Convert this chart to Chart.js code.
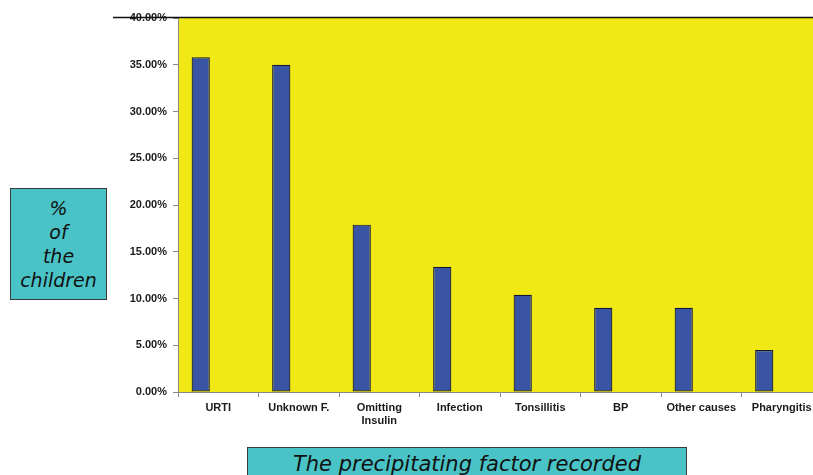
<!DOCTYPE html>
<html>
<head>
<meta charset="utf-8">
<script src="https://cdn.jsdelivr.net/npm/chart.js@4.4.0/dist/chart.umd.min.js"></script>
<style>
  html, body { margin: 0; padding: 0; background: #fff; overflow: hidden; }
  #wrap { position: relative; width: 813px; height: 475px; overflow: hidden; }
  #chartBox { position: absolute; left: 0; top: 0; width: 840px; height: 475px; }
  .tbox {
    position: absolute; background: #4AC3C7; border: 1px solid #3a3a3a;
    font-family: "DejaVu Sans", Verdana, sans-serif; font-style: italic;
    color: #111; text-align: center; box-sizing: border-box;
  }
  #yBox { left: 10px; top: 188px; width: 97px; height: 112px; font-size: 19px; line-height: 24px; padding-top: 7px; }
  #xBox { left: 247px; top: 447px; width: 440px; height: 40px; font-size: 21px; line-height: 30px; padding-top: 1px; }
</style>
</head>
<body>
<div id="wrap">
  <div id="chartBox"><canvas id="chart1" width="840" height="475"></canvas></div>
  <div class="tbox" id="yBox">%<br>of<br>the<br>children</div>
  <div class="tbox" id="xBox">The precipitating factor recorded</div>
</div>
<script>
// categories and values
var factorLabels = ['URTI', 'Unknown F.', ['Omitting', 'Insulin'], 'Infection', 'Tonsillitis', 'BP', 'Other causes', 'Pharyngitis']
var percentValues = [35.8, 35.0, 17.9, 13.4, 10.4, 9.0, 9.0, 4.5]
var emptySeries = [null, null, null, null, null, null, null, null]

var plotYellow = '#F1E916'
var barBlue = '#3A54A4'

// yellow plot area + black line along the top
var plotBackground = {
    id: 'plotBackground',
    beforeDraw: function (chart) {
        var a = chart.chartArea
        var ctx = chart.ctx
        ctx.save()
        ctx.fillStyle = plotYellow
        ctx.fillRect(a.left, a.top, a.right - a.left, a.bottom - a.top)
        ctx.restore()
    },
    afterDraw: function (chart) {
        var a = chart.chartArea
        var ctx = chart.ctx
        ctx.save()
        ctx.strokeStyle = '#111'
        ctx.lineWidth = 1.5
        ctx.beginPath()
        ctx.moveTo(113, a.top - 0.5)
        ctx.lineTo(chart.width, a.top - 0.5)
        ctx.stroke()
        ctx.restore()
    }
}

var ctx = document.getElementById('chart1').getContext('2d')
var chart1 = new Chart(ctx, {
    type: 'bar',
    data: {
        labels: factorLabels,
        datasets: [{
            data: percentValues,
            backgroundColor: barBlue,
            borderColor: '#15173a',
            borderWidth: 1.2,
            borderSkipped: false,
            categoryPercentage: 0.87,
            barPercentage: 0.52
        }, {
            data: emptySeries,
            categoryPercentage: 0.87,
            barPercentage: 0.52
        }]
    },
    options: {
        responsive: false,
        animation: false,
        layout: { padding: { top: 18, right: 18, left: 0, bottom: 0 } },
        plugins: {
            legend: { display: false },
            tooltip: { enabled: false }
        },
        scales: {
            x: {
                afterFit: function (s) { s.height = 83 },
                grid: { drawOnChartArea: false, tickLength: 5, color: '#888' },
                border: { color: '#888', width: 1 },
                ticks: {
                    color: '#1a1a1a',
                    padding: 5,
                    maxRotation: 0,
                    autoSkip: false,
                    font: { family: 'Arial, "Liberation Sans"', size: 11, weight: 'bold', lineHeight: 1.15 }
                }
            },
            y: {
                min: 0,
                max: 40,
                afterFit: function (s) { s.width = 178 },
                grid: { drawOnChartArea: false, tickLength: 5, color: '#888' },
                border: { color: '#888', width: 1 },
                ticks: {
                    stepSize: 5,
                    padding: 6,
                    color: '#1a1a1a',
                    font: { family: 'Arial, "Liberation Sans"', size: 11, weight: 'bold' },
                    callback: function (v) { return v.toFixed(2) + '%' }
                }
            }
        }
    },
    plugins: [plotBackground]
})
</script>
</body>
</html>
